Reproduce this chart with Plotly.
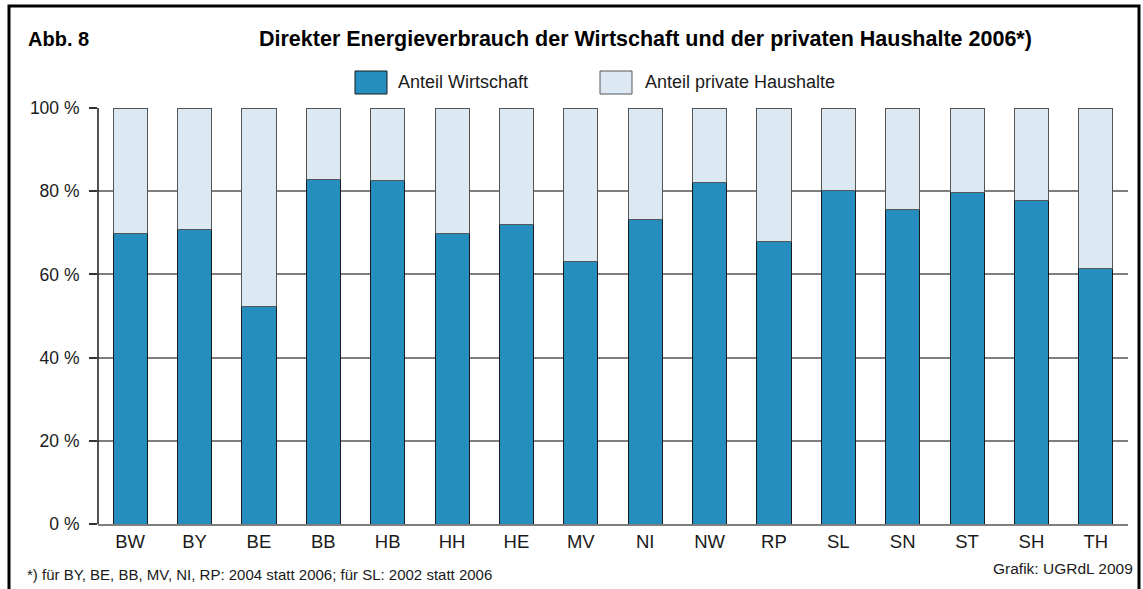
import plotly.graph_objects as go

laender = ["BW", "BY", "BE", "BB", "HB", "HH", "HE", "MV", "NI", "NW", "RP", "SL", "SN", "ST", "SH", "TH"]
anteil_wirtschaft = [69.9, 70.7, 52.4, 82.9, 82.6, 69.9, 71.9, 63.1, 73.2, 82.0, 67.9, 80.1, 75.6, 79.8, 77.8, 61.5]
anteil_haushalte = [round(100 - v, 1) for v in anteil_wirtschaft]
y_ticks = [0, 20, 40, 60, 80, 100]

BLUE = "#258EBF"
LIGHT = "#DCE8F2"
FONT = "Liberation Sans, Arial, sans-serif"

W, H = 1143, 589
L, R, T, B = 98, 15, 108, 65
pw, ph = W - L - R, H - T - B

def px(x):
    return (x - L) / pw

def py(y):
    return (H - B - y) / ph

fig = go.Figure()
fig.add_trace(go.Bar(x=laender, y=anteil_wirtschaft, name="Anteil Wirtschaft",
                     marker=dict(color=BLUE, line=dict(color="#1a1a1a", width=1)), width=0.53))
fig.add_trace(go.Bar(x=laender, y=anteil_haushalte, name="Anteil private Haushalte",
                     marker=dict(color=LIGHT, line=dict(color="#555555", width=1)), width=0.53))

shapes = [
    dict(type="rect", xref="paper", yref="paper", x0=px(9), x1=px(1139), y0=py(600), y1=py(6),
         line=dict(color="black", width=3), fillcolor="rgba(0,0,0,0)", layer="below"),
    dict(type="rect", xref="paper", yref="paper", x0=px(355), x1=px(387), y0=py(94), y1=py(71),
         line=dict(color="#1a1a1a", width=1), fillcolor=BLUE),
    dict(type="rect", xref="paper", yref="paper", x0=px(600), x1=px(632), y0=py(94), y1=py(71),
         line=dict(color="#555555", width=1), fillcolor=LIGHT),
    dict(type="line", xref="paper", yref="paper", x0=0, x1=0, y0=0, y1=1,
         line=dict(color="#1a1a1a", width=1.5)),
]

annotations = [
    dict(text="<b>Abb. 8</b>", xref="paper", yref="paper", x=px(26), y=py(39), xanchor="left", yanchor="middle",
         showarrow=False, font=dict(size=20, family=FONT, color="black")),
    dict(text="<b>Direkter Energieverbrauch der Wirtschaft und der privaten Haushalte 2006*)</b>",
         xref="paper", yref="paper", x=px(645), y=py(39), xanchor="center", yanchor="middle",
         showarrow=False, font=dict(size=21.5, family=FONT, color="black")),
    dict(text="Anteil Wirtschaft", xref="paper", yref="paper", x=px(396), y=py(82), xanchor="left", yanchor="middle",
         showarrow=False, font=dict(size=18, family=FONT, color="#1a1a1a")),
    dict(text="Anteil private Haushalte", xref="paper", yref="paper", x=px(643), y=py(82), xanchor="left", yanchor="middle",
         showarrow=False, font=dict(size=18, family=FONT, color="#1a1a1a")),
    dict(text="*) für BY, BE, BB, MV, NI, RP: 2004 statt 2006; für SL: 2002 statt 2006", xref="paper", yref="paper",
         x=px(25), y=py(574), xanchor="left", yanchor="middle",
         showarrow=False, font=dict(size=15, family=FONT, color="#1a1a1a")),
    dict(text="Grafik: UGRdL 2009", xref="paper", yref="paper", x=px(1135), y=py(568), xanchor="right", yanchor="middle",
         showarrow=False, font=dict(size=15.5, family=FONT, color="#1a1a1a")),
]

fig.update_layout(
    barmode="stack",
    width=W, height=H,
    margin=dict(l=L, r=R, t=T, b=B, pad=0),
    paper_bgcolor="white", plot_bgcolor="white",
    showlegend=False,
    shapes=shapes,
    annotations=annotations,
    font=dict(family=FONT, color="#1a1a1a"),
    xaxis=dict(range=[-0.5, 15.5], showgrid=False, showline=True, linecolor="#7f7f7f", linewidth=2,
               ticks="", tickfont=dict(size=18.5, family=FONT, color="#1a1a1a"), fixedrange=True),
    yaxis=dict(range=[0, 100], tickvals=y_ticks, ticktext=[f"{v} %" for v in y_ticks],
               showgrid=True, gridcolor="#7f7f7f", gridwidth=2, showline=False,
               ticks="outside", ticklen=8, tickcolor="#333333", tickwidth=1.5, ticklabelstandoff=6,
               tickfont=dict(size=17.5, family=FONT, color="#1a1a1a"), zeroline=False),
)

fig.write_html("out.html", config={"displayModeBar": False},
               post_script="document.body.style.margin='0px';document.body.style.overflow='hidden';")
